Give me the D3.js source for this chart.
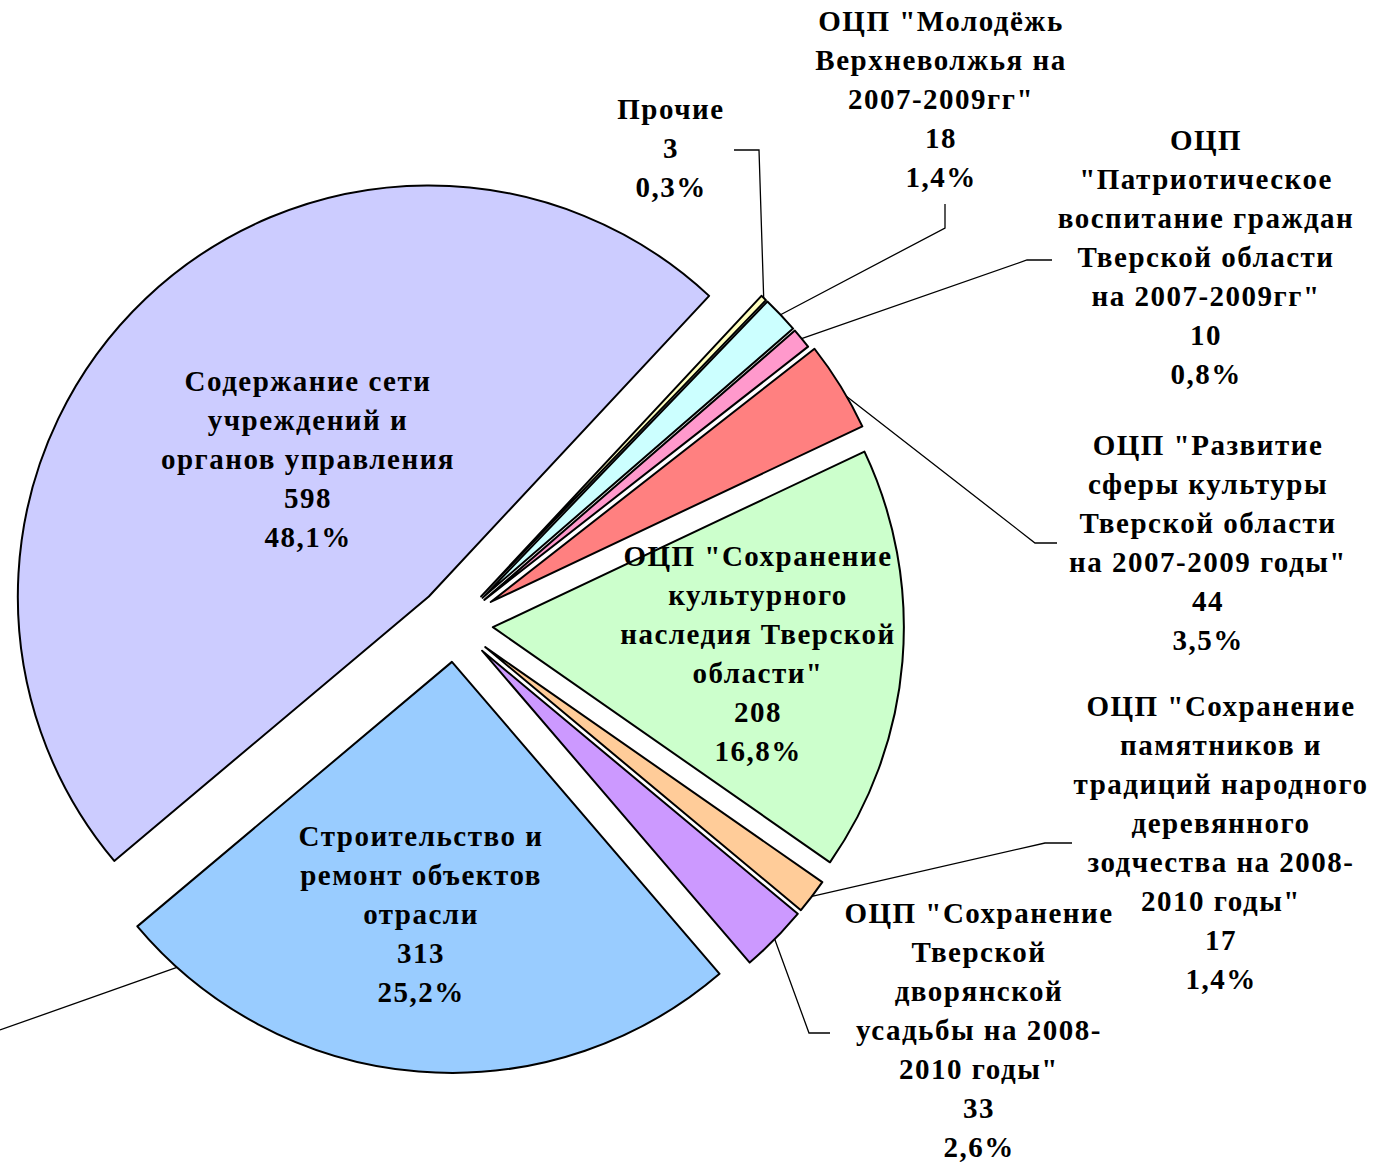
<!DOCTYPE html>
<html>
<head>
<meta charset="utf-8">
<script src="https://cdn.jsdelivr.net/npm/d3@7"></script>
<style>
  body { margin: 0; background: #fff; }
  text { font-family: "Liberation Serif", "Times New Roman", serif; font-weight: bold; fill: #000; }
</style>
</head>
<body>
<script>
// Data
const categories = [
    "Прочие",
    "ОЦП \"Молодёжь\nВерхневолжья на\n2007-2009гг\"",
    "ОЦП\n\"Патриотическое\nвоспитание граждан\nТверской области\nна 2007-2009гг\"",
    "ОЦП \"Развитие\nсферы культуры\nТверской области\nна 2007-2009 годы\"",
    "ОЦП \"Сохранение\nкультурного\nнаследия Тверской\nобласти\"",
    "ОЦП \"Сохранение\nпамятников и\nтрадиций народного\nдеревянного\nзодчества на 2008-\n2010 годы\"",
    "ОЦП \"Сохранение\nТверской\nдворянской\nусадьбы на 2008-\n2010 годы\"",
    "Строительство и\nремонт объектов\nотрасли",
    "Содержание сети\nучреждений и\nорганов управления"
];
const values = [3, 18, 10, 44, 208, 17, 33, 313, 598];
const shares = ["0,3%", "1,4%", "0,8%", "3,5%", "16,8%", "1,4%", "2,6%", "25,2%", "48,1%"];

// Styles / layout
const colors = ["#FFFFC0", "#CCFFFF", "#FF99CC", "#FF8080", "#CCFFCC", "#FFCC99", "#CC99FF", "#99CCFF", "#CCCCFF"];
const width = 1374, height = 1165;
const center = [455, 624];
const radius = 411;
const explode = [38, 38, 38, 42, 38, 38, 38, 38, 38];
const fontSize = 29;
const lineStep = 39;

// label block: x centre, y centre of first line
const labelPos = [
    [671, 109], [941, 21], [1206, 140], [1208, 445], [758, 556],
    [1221, 706], [979, 913], [421, 836], [308, 381]
];
// leader lines: slice index, angle on arc (deg, null = middle), then elbow points
const leaders = [
    { i: 0, angle: null, pts: [[759, 150], [734, 150]] },
    { i: 1, angle: null, pts: [[945, 228], [945, 204]] },
    { i: 2, angle: null, pts: [[1027, 260], [1052, 260]] },
    { i: 3, angle: 60, pts: [[1035, 543], [1057, 543]] },
    { i: 5, angle: null, pts: [[1045, 843], [1072, 843]] },
    { i: 6, angle: null, pts: [[809, 1033], [830, 1033]] },
    { i: 7, angle: 222, pts: [[0, 1030]] }
];

const svg = d3.select("body")
    .append("svg")
    .attr("width", width)
    .attr("height", height);

const start = 43 * Math.PI / 180;
const pie = d3.pie()
    .sort(null)
    .value(d => d)
    .startAngle(start)
    .endAngle(start + 2 * Math.PI);

const arcs = pie(values);
const arc = d3.arc().innerRadius(0).outerRadius(radius);

function apex(i) {
    const a = (arcs[i].startAngle + arcs[i].endAngle) / 2;
    return [center[0] + explode[i] * Math.sin(a), center[1] - explode[i] * Math.cos(a)];
}

function outerPoint(i, angleDeg) {
    const a = angleDeg == null ? (arcs[i].startAngle + arcs[i].endAngle) / 2 : angleDeg * Math.PI / 180;
    const p = apex(i);
    return [p[0] + radius * Math.sin(a), p[1] - radius * Math.cos(a)];
}

// Slices
svg.selectAll(".slice")
    .data(arcs)
    .enter()
    .append("path")
    .classed("slice", true)
    .attr("transform", (d, i) => `translate(${apex(i)})`)
    .attr("d", arc)
    .style("fill", (d, i) => colors[i])
    .style("stroke", "#000")
    .style("stroke-width", 2)
    .style("stroke-linejoin", "round");

// Leader lines
const line = d3.line();
svg.selectAll(".leader")
    .data(leaders)
    .enter()
    .append("path")
    .classed("leader", true)
    .attr("d", d => line([outerPoint(d.i, d.angle)].concat(d.pts)))
    .style("fill", "none")
    .style("stroke", "#000")
    .style("stroke-width", 1.3);

// Labels
const labels = svg.selectAll(".label")
    .data(categories)
    .enter()
    .append("text")
    .classed("label", true)
    .attr("text-anchor", "middle")
    .style("font-size", fontSize + "px")
    .style("letter-spacing", "1.5px");

labels.each(function (d, i) {
    const t = d3.select(this);
    const lines = d.split("\n").concat([String(values[i]), shares[i]]);
    lines.forEach((s, k) => {
        t.append("tspan")
            .attr("x", labelPos[i][0])
            .attr("y", labelPos[i][1] + k * lineStep + fontSize * 0.35)
            .text(s);
    });
});
</script>
</body>
</html>
